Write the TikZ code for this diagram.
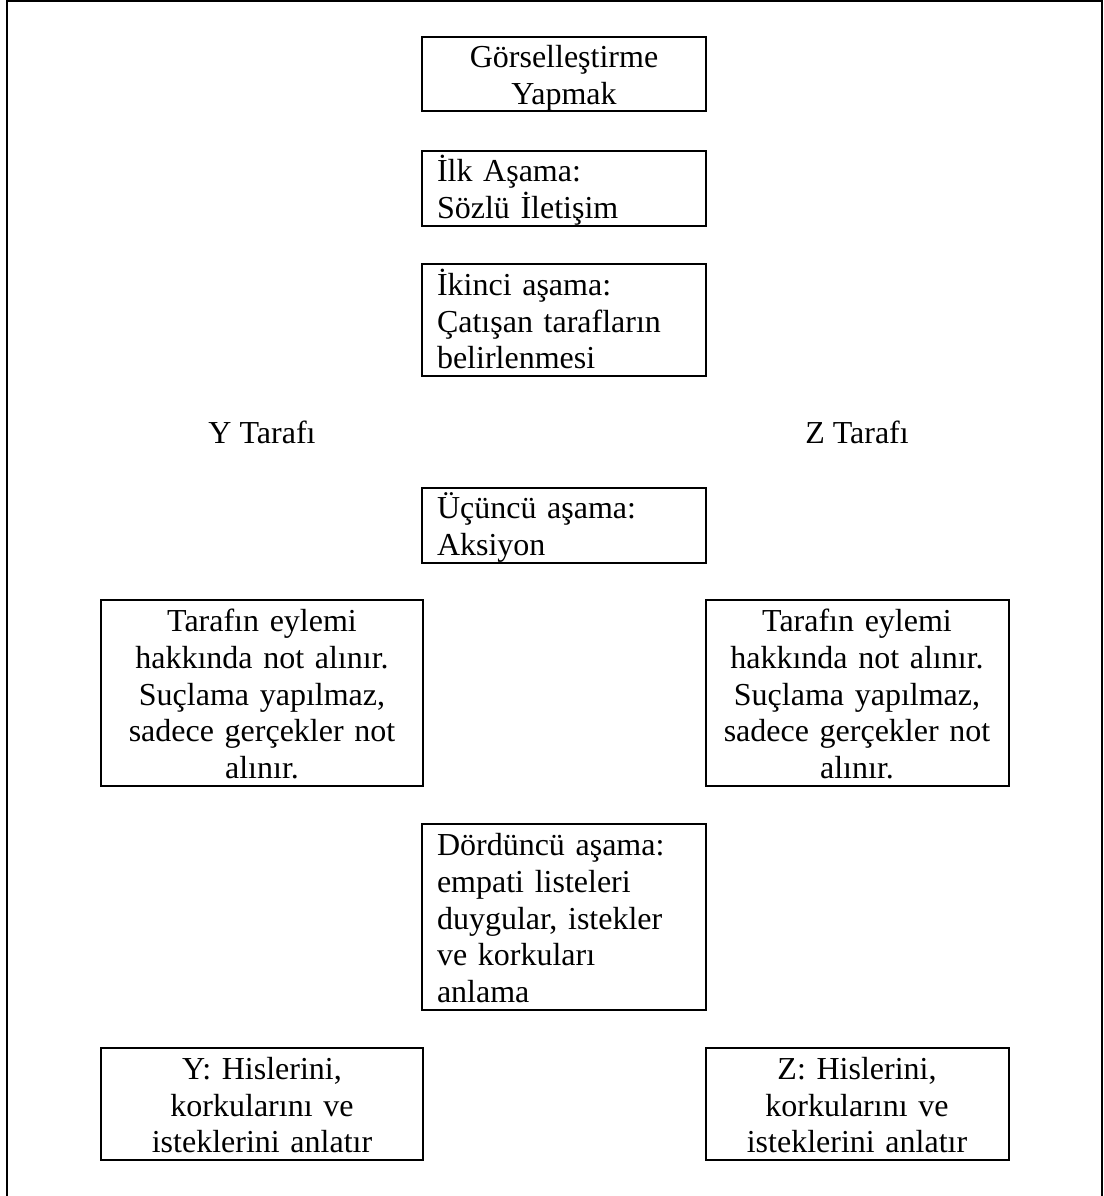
\documentclass[tikz,border=0pt]{standalone}
\usepackage{fontspec}
\setmainfont{Liberation Serif}
\newcommand\tdep{\rule[-6pt]{0pt}{6pt}}
\begin{document}
\begin{tikzpicture}[x=1pt,y=-1pt,
  font=\fontsize{32}{36.8}\selectfont,
  frame/.style={line width=2pt},
  cbox/.style={draw, line width=2pt, inner xsep=15pt, inner ysep=0pt,
    text width=254pt, align=left, text height=30pt},
  sboxl/.style={draw, line width=2pt, inner xsep=10pt, inner ysep=0pt,
    text width=302pt, align=center, text height=30pt},
  sboxr/.style={draw, line width=2pt, inner xsep=10pt, inner ysep=0pt,
    text width=283pt, align=center, text height=30pt},
  lbl/.style={inner sep=0pt, anchor=base}]
\useasboundingbox (0,0) rectangle (1103,1196);
% outer frame
\coordinate (f1) at (6.5,1198);
\coordinate (f2) at (6.5,1);
\coordinate (f3) at (1102,1);
\coordinate (f4) at (1102,1198);
\draw[frame] (f1) -- (f2) -- (f3) -- (f4);
% central column
\node[cbox, align=center, minimum height=74pt] (b1) at (564,74.5) {Görselleştirme\\Yapmak\tdep};
\node[cbox, minimum height=75pt] (b2) at (564,188.5) {İlk Aşama:\\Sözlü İletişim\tdep};
\node[cbox, minimum height=112pt] (b3) at (564,320) {İkinci aşama:\\Çatışan tarafların\\belirlenmesi\tdep};
\node[lbl] (ly) at (262,443) {Y Tarafı};
\node[lbl] (lz) at (857,443) {Z Tarafı};
\node[cbox, minimum height=75pt] (b4) at (564,525.5) {Üçüncü aşama:\\Aksiyon\tdep};
\node[sboxl, minimum height=186pt] (ya) at (262,693) {Tarafın eylemi\\hakkında not alınır.\\Suçlama yapılmaz,\\sadece gerçekler not\\alınır.\tdep};
\node[sboxr, minimum height=186pt] (za) at (857,693) {Tarafın eylemi\\hakkında not alınır.\\Suçlama yapılmaz,\\sadece gerçekler not\\alınır.\tdep};
\node[cbox, minimum height=186pt] (b5) at (564,917) {Dördüncü aşama:\\empati listeleri\\duygular, istekler\\ve korkuları\\anlama\tdep};
\node[sboxl, minimum height=112pt] (yh) at (262,1104) {Y: Hislerini,\\korkularını ve\\isteklerini anlatır\tdep};
\node[sboxr, minimum height=112pt] (zh) at (857,1104) {Z: Hislerini,\\korkularını ve\\isteklerini anlatır\tdep};
\end{tikzpicture}
\end{document}
